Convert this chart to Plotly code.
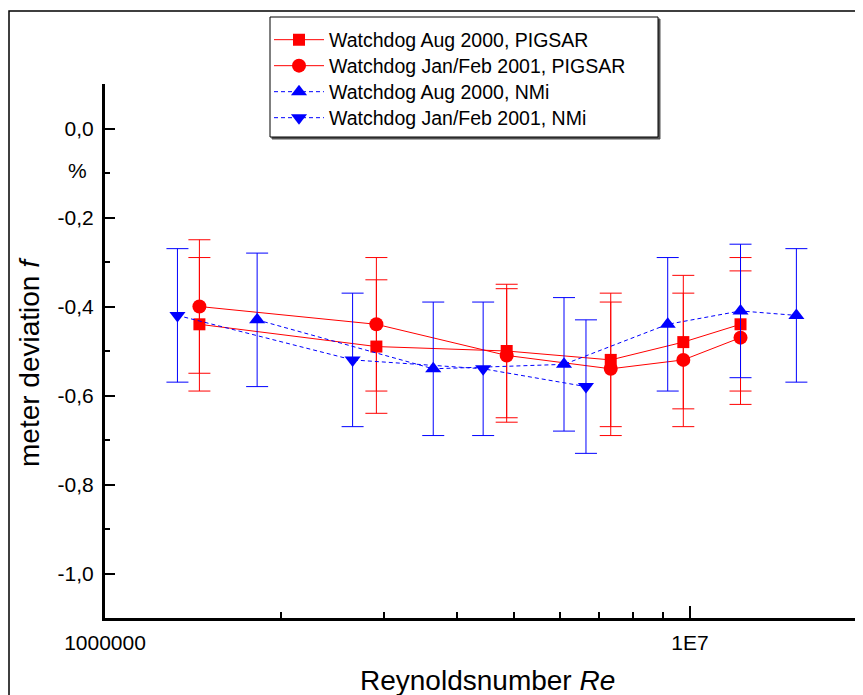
import plotly.graph_objects as go

# ---- data ----
re_pigsar = [1.45e6, 2.91e6, 4.86e6, 7.32e6, 9.74e6, 12.2e6]
f_aug2000_pigsar = [-0.44, -0.49, -0.50, -0.52, -0.48, -0.44]
f_jan2001_pigsar = [-0.40, -0.44, -0.51, -0.54, -0.52, -0.47]

re_nmi_aug = [1.82e6, 3.64e6, 6.09e6, 9.16e6, 12.2e6, 15.2e6]
f_aug2000_nmi = [-0.43, -0.54, -0.53, -0.44, -0.41, -0.42]

re_nmi_jan = [1.33e6, 2.65e6, 4.43e6, 6.64e6]
f_jan2001_nmi = [-0.42, -0.52, -0.54, -0.58]

uncertainty = 0.15

names = ["Watchdog Aug 2000, PIGSAR", "Watchdog Jan/Feb 2001, PIGSAR",
         "Watchdog Aug 2000, NMi", "Watchdog Jan/Feb 2001, NMi"]

y_major = [0.0, -0.2, -0.4, -0.6, -0.8, -1.0]
y_major_text = ["0,0", "-0,2", "-0,4", "-0,6", "-0,8", "-1,0"]
y_minor = [0.1, -0.1, -0.3, -0.5, -0.7, -0.9]
x_major = [1e6, 1e7]
x_major_text = ["1000000", "1E7"]
x_minor = [2e6, 3e6, 4e6, 5e6, 6e6, 7e6, 8e6, 9e6, 2e7]

# ---- layout geometry (px in the 863x695 window; page body has an 8px margin) ----
OFF = 8
W, H = 863 - OFF, 695 - OFF
L, R, T, B = 105, 860, 84, 618
pw, ph = R - L, B - T


def px_x(x):
    return (x - L) / pw


def px_y(y):
    return (B - y) / ph


FONT = "Arial, Liberation Sans, sans-serif"
RED = "#ff0000"
BLUE = "#0000ff"

fig = go.Figure()

legend_rows = [40, 66, 92, 118]
legend_ids = ["legend", "legend2", "legend3", "legend4"]


def add(i, xs, ys, color, symbol, size, dash):
    fig.add_trace(go.Scatter(
        x=xs, y=ys, name=names[i], mode="lines+markers",
        legend=legend_ids[i],
        line=dict(color=color, width=1, dash=dash),
        marker=dict(color=color, symbol=symbol, size=size, line=dict(width=0)),
        error_y=dict(type="constant", value=uncertainty, color=color,
                     thickness=1, width=11),
    ))


add(0, re_pigsar, f_aug2000_pigsar, RED, "square", 12, "solid")
add(1, re_pigsar, f_jan2001_pigsar, RED, "circle", 14, "solid")
add(2, re_nmi_aug, f_aug2000_nmi, BLUE, "triangle-up", 14, "4px,3px")
add(3, re_nmi_jan, f_jan2001_nmi, BLUE, "triangle-down", 14, "4px,3px")

shapes = [
    # outer frame
    dict(type="rect", xref="paper", yref="paper",
         x0=px_x(9), x1=px_x(900), y0=px_y(750), y1=px_y(11),
         line=dict(color="black", width=1.5), fillcolor="rgba(0,0,0,0)", layer="above"),
    # legend shadow
    dict(type="rect", xref="paper", yref="paper",
         x0=px_x(272), x1=px_x(660), y0=px_y(139), y1=px_y(19),
         line=dict(color="#555555", width=1), fillcolor="#555555", layer="above"),
    # legend box
    dict(type="rect", xref="paper", yref="paper",
         x0=px_x(270), x1=px_x(658), y0=px_y(137), y1=px_y(17),
         line=dict(color="black", width=1), fillcolor="white", layer="above"),
]

annotations = [
    dict(text="%", xref="paper", yref="paper", x=px_x(77), y=px_y(171),
         showarrow=False, font=dict(family=FONT, size=21, color="black"),
         xanchor="center", yanchor="middle"),
    dict(text="meter deviation <i>f</i>", xref="paper", yref="paper",
         x=px_x(30), y=px_y(362), textangle=-90, showarrow=False,
         font=dict(family=FONT, size=28, color="black"),
         xanchor="center", yanchor="middle"),
    dict(text="Reynoldsnumber <i>Re</i>", xref="paper", yref="paper",
         x=px_x(487), y=px_y(680), showarrow=False,
         font=dict(family=FONT, size=28, color="black"),
         xanchor="center", yanchor="middle"),
]

layout_kw = {}
for lid, row in zip(legend_ids, legend_rows):
    layout_kw[lid] = dict(x=px_x(269), y=px_y(row), xanchor="left", yanchor="middle",
                          bgcolor="rgba(0,0,0,0)", borderwidth=0,
                          font=dict(family=FONT, size=19.5, color="black"),
                          itemwidth=50)

fig.update_layout(
    width=W, height=H,
    margin=dict(l=L - OFF, r=863 - R, t=T - OFF, b=695 - B, pad=0),
    paper_bgcolor="white", plot_bgcolor="white",
    font=dict(family=FONT, color="black"),
    showlegend=True,
    shapes=shapes,
    annotations=annotations,
    xaxis=dict(
        type="log", range=[6, 6 + (R - L) / 585.0],
        showgrid=False, zeroline=False,
        showline=True, linecolor="black", linewidth=3,
        ticks="inside", ticklen=12, tickwidth=2, tickcolor="black",
        tickmode="array", tickvals=x_major, ticktext=x_major_text,
        tickfont=dict(family=FONT, size=21, color="black"),
        ticklabelstandoff=4,
        minor=dict(ticks="inside", ticklen=6, tickwidth=2, tickcolor="black",
                   tickmode="array", tickvals=x_minor, showgrid=False),
    ),
    yaxis=dict(
        range=[-1.1, 0.1],
        showgrid=False, zeroline=False,
        showline=True, linecolor="black", linewidth=3,
        ticks="inside", ticklen=10, tickwidth=2, tickcolor="black",
        tickmode="array", tickvals=y_major, ticktext=y_major_text,
        tickfont=dict(family=FONT, size=21, color="black"),
        ticklabelstandoff=4,
        minor=dict(ticks="inside", ticklen=5, tickwidth=2, tickcolor="black",
                   tickmode="array", tickvals=y_minor, showgrid=False),
    ),
    **layout_kw,
)

fig.write_html("out.html")
